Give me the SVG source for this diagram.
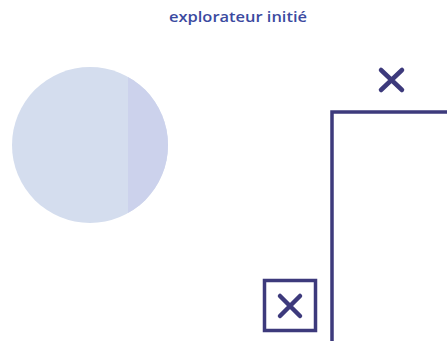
<svg xmlns="http://www.w3.org/2000/svg" width="447" height="341" viewBox="0 0 447 341">
<style>
.title{font-family:"Open Sans","Liberation Sans",sans-serif;font-weight:600;font-size:14px;fill:#3b4aa0}
.frame{fill:none;stroke:#3d3a7c;stroke-width:3.5}
.x{stroke:#3d3a7c;stroke-width:4.5;stroke-linecap:round}
</style>
<defs><clipPath id="cc"><circle cx="90" cy="145" r="78"/></clipPath></defs>
<rect width="447" height="341" fill="#ffffff"/>
<text class="title" x="238" y="22" text-anchor="middle" textLength="138" lengthAdjust="spacingAndGlyphs">explorateur initié</text>
<g id="circle">
<circle cx="90" cy="145" r="78" fill="#d4ddee"/>
<rect x="128" y="60" width="50" height="170" fill="#ccd2ec" clip-path="url(#cc)"/>
</g>
<g id="panel">
<rect class="frame" x="332" y="112" width="130" height="240"/>
</g>
<g id="close-top">
<path class="x" d="M381 70L402 90M402 70L381 90"/>
</g>
<g id="close-box">
<rect class="frame" x="264.5" y="280.5" width="51" height="50"/>
<path class="x" d="M280 296L300 316M300 296L280 316"/>
</g>
<g id="connectors"/>
</svg>
